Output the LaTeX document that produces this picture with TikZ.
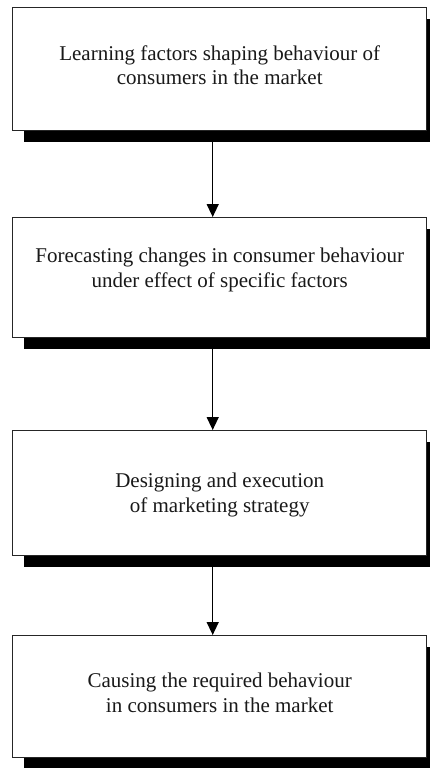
\documentclass[tikz,border=0pt]{standalone}
\usepackage{fontspec}
\setmainfont{Liberation Serif}
\usetikzlibrary{arrows.meta}
\begin{document}
\begin{tikzpicture}[x=1pt,y=-1pt,
  boxnode/.style={draw=black!85, line width=1.4pt, fill=white, minimum width=414pt, minimum height=123pt, inner sep=0pt, anchor=north west},
  shadownode/.style={fill=black, draw=none, minimum width=414pt, minimum height=123pt, inner sep=0pt, anchor=north west},
  txt/.style={font=\fontsize{21}{24.5}\selectfont, align=center, text=black!90, inner sep=0pt},
  arr/.style={line width=1.4pt, -{Triangle[width=12pt,length=13pt]}}]
\useasboundingbox (0,0) rectangle (430,768);
\clip (0,0) rectangle (430,768);
% shadows
\node[shadownode] (s1) at (24,19) {};
\node[shadownode, minimum height=120pt] (s2) at (24,229) {};
\node[shadownode, minimum height=125pt] (s3) at (24,442) {};
\node[shadownode, minimum height=122pt] (s4) at (24,647) {};
% boxes
\node[boxnode] (b1) at (12,7) {};
\node[boxnode, minimum height=120pt] (b2) at (12,217) {};
\node[boxnode, minimum height=125pt] (b3) at (12,430) {};
\node[boxnode, minimum height=122pt] (b4) at (12,635) {};
% texts
\node[txt] (t1) at ([yshift=4pt]b1.center) {Learning factors shaping behaviour of\\consumers in the market};
\node[txt] (t2) at ([yshift=8pt]b2.center) {Forecasting changes in consumer behaviour\\under effect of specific factors};
\node[txt] (t3) at ([yshift=-2pt]b3.center) {Designing and execution\\of marketing strategy};
\node[txt] (t4) at ([yshift=4pt]b4.center) {Causing the required behaviour\\in consumers in the market};
% arrows
\draw[arr] ([xshift=-7pt]b1.center |- s1.south) -- ([xshift=-7pt]b2.north);
\draw[arr] ([xshift=-7pt]b2.center |- s2.south) -- ([xshift=-7pt]b3.north);
\draw[arr] ([xshift=-7pt]b3.center |- s3.south) -- ([xshift=-7pt]b4.north);
\end{tikzpicture}
\end{document}
